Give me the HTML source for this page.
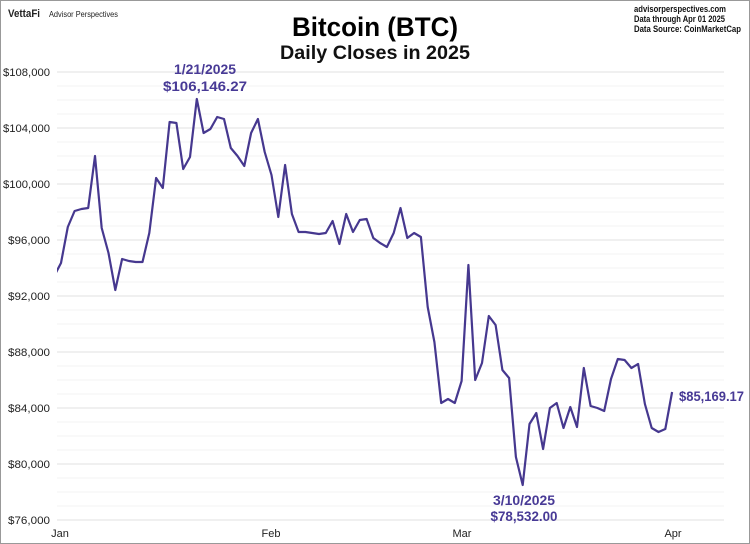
<!DOCTYPE html>
<html><head><meta charset="utf-8"><style>
html,body{margin:0;padding:0;background:#fff;}
svg{display:block;font-family:"Liberation Sans",sans-serif;}
</style></head><body>
<svg id="s" width="750" height="544" viewBox="0 0 750 544" xmlns="http://www.w3.org/2000/svg">
<rect x="0.5" y="0.5" width="749" height="543" fill="#fff" stroke="#999"/>
<g id="grid"></g>
<text x="8" y="17" font-size="11" font-weight="bold" fill="#222" textLength="32" lengthAdjust="spacingAndGlyphs">VettaFi</text>
<text x="49" y="17" font-size="8.5" fill="#222" textLength="69" lengthAdjust="spacingAndGlyphs">Advisor Perspectives</text>
<text x="634" y="12" font-size="9" font-weight="bold" fill="#111" textLength="92" lengthAdjust="spacingAndGlyphs">advisorperspectives.com</text>
<text x="634" y="22" font-size="9" font-weight="bold" fill="#111" textLength="91" lengthAdjust="spacingAndGlyphs">Data through Apr 01 2025</text>
<text x="634" y="32" font-size="9" font-weight="bold" fill="#111" textLength="107" lengthAdjust="spacingAndGlyphs">Data Source: CoinMarketCap</text>
<text x="375" y="36" font-size="27" font-weight="bold" text-anchor="middle" fill="#000" textLength="166" lengthAdjust="spacingAndGlyphs">Bitcoin (BTC)</text>
<text x="375" y="59" font-size="19" font-weight="bold" text-anchor="middle" fill="#111" textLength="190" lengthAdjust="spacingAndGlyphs">Daily Closes in 2025</text>
<g font-size="11" fill="#222" text-anchor="middle">
<text x="60" y="537">Jan</text><text x="271" y="537">Feb</text><text x="462" y="537">Mar</text><text x="673" y="537">Apr</text>
</g>
<defs><clipPath id="c"><rect x="57" y="40" width="670" height="490"/></clipPath></defs>
<polyline id="ln" fill="none" stroke="#46388f" stroke-width="2.2" stroke-linejoin="round" clip-path="url(#c)"/>
<g font-size="14" font-weight="bold" fill="#483a96">
<text x="205" y="74" text-anchor="middle" textLength="62" lengthAdjust="spacingAndGlyphs">1/21/2025</text>
<text x="205" y="91" text-anchor="middle" textLength="84" lengthAdjust="spacingAndGlyphs">$106,146.27</text>
<text x="524" y="505" text-anchor="middle" textLength="62" lengthAdjust="spacingAndGlyphs">3/10/2025</text>
<text x="524" y="521" text-anchor="middle" textLength="67" lengthAdjust="spacingAndGlyphs">$78,532.00</text>
<text x="679" y="401" textLength="65" lengthAdjust="spacingAndGlyphs">$85,169.17</text>
</g>
</svg>
<script>
var ys=[276,263,227,211,209,208,156,228,253,290,259,261,262,262,233,178,188,122,123,169,157,99,133,129,117,119,148,156,166,133,119,152,175,217,165,214,232,232,233,234,233,221,244,214,232,220,219,238,243,247,233,208,238,233,237,307,342,403,399,403,381,265,380,363,316,325,370,378,457,485,424,413,449,408,403,428,407,427,368,406,408,411,379,359,360,368,364,404,428,432,429,392];
var p=[];for(var i=0;i<ys.length;i++){p.push((61+(i-1)*6.79).toFixed(1)+","+ys[i]);}
document.getElementById("ln").setAttribute("points",p.join(" "));
var g=document.getElementById("grid"),h="";
for(var k=0;k<=32;k++){var y=72+k*14;var maj=(k%4==0);
h+='<line x1="57" x2="724" y1="'+y+'" y2="'+y+'" stroke="'+(maj?'#e6e6e6':'#f3f3f3')+'" stroke-width="'+(maj?1.3:1)+'"/>';
if(maj){var v=108-k;h+='<text x="50" y="'+(y+4)+'" font-size="11" text-anchor="end" fill="#222" textLength="'+(v>=100?47:42)+'" lengthAdjust="spacingAndGlyphs">$'+(v)+',000</text>';}}
g.innerHTML=h;
</script>
</body></html>
